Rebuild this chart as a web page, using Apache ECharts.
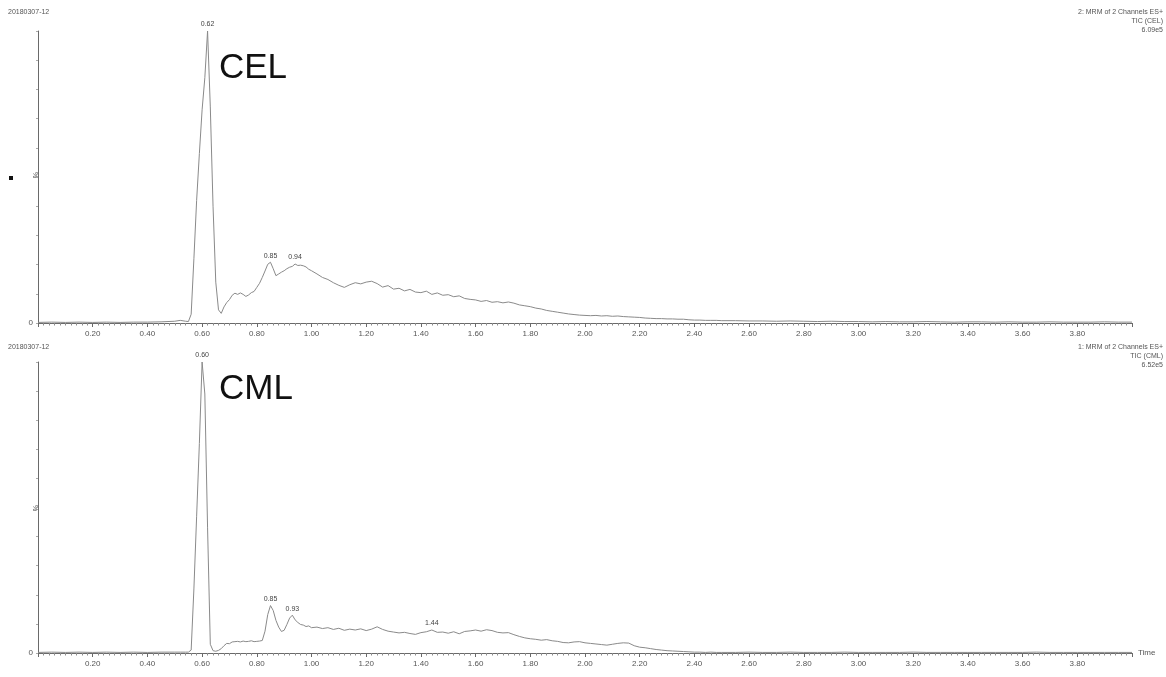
<!DOCTYPE html>
<html>
<head>
<meta charset="utf-8">
<script src="https://cdn.jsdelivr.net/npm/echarts@6/dist/echarts.min.js"></script>
<style>
  html, body { margin: 0; padding: 0; background: #fff; }
  #chart { width: 1166px; height: 677px; }
</style>
</head>
<body>
<div id="chart"></div>
<script>
// Retention time (min), shared by both channels
const times = [
  0.00, 0.05, 0.10, 0.15, 0.20, 0.25, 0.30, 0.35, 0.40, 0.45, 0.50, 0.52, 0.54,
  0.55, 0.56, 0.57, 0.58, 0.59, 0.60, 0.61, 0.62, 0.63, 0.64,
  0.65, 0.66, 0.67, 0.68, 0.69, 0.70, 0.71, 0.72, 0.73, 0.74,
  0.75, 0.76, 0.77, 0.78, 0.79, 0.80, 0.81, 0.82, 0.83, 0.84,
  0.85, 0.86, 0.87, 0.88, 0.89, 0.90, 0.91, 0.92, 0.93, 0.94,
  0.95, 0.96, 0.97, 0.98, 0.99, 1.00,
  1.02, 1.04, 1.06, 1.08, 1.10, 1.12, 1.14, 1.16, 1.18, 1.20,
  1.22, 1.24, 1.26, 1.28, 1.30, 1.32, 1.34, 1.36, 1.38, 1.40,
  1.42, 1.44, 1.46, 1.48, 1.50, 1.52, 1.54, 1.56, 1.58, 1.60,
  1.62, 1.64, 1.66, 1.68, 1.70, 1.72, 1.74, 1.76, 1.78, 1.80,
  1.82, 1.84, 1.86, 1.88, 1.90, 1.92, 1.94, 1.96, 1.98, 2.00,
  2.02, 2.04, 2.06, 2.08, 2.10, 2.12, 2.14, 2.16, 2.18, 2.20,
  2.22, 2.24, 2.26, 2.28, 2.30, 2.32, 2.34, 2.36, 2.38, 2.40,
  2.42, 2.44, 2.46, 2.48, 2.50,
  2.55, 2.60, 2.65, 2.70, 2.75, 2.80, 2.85, 2.90, 2.95, 3.00,
  3.05, 3.10, 3.15, 3.20, 3.25, 3.30, 3.35, 3.40, 3.45, 3.50,
  3.55, 3.60, 3.65, 3.70, 3.75, 3.80, 3.85, 3.90, 3.95, 4.00
];

// Channel 2: TIC (CEL), relative intensity %
const celPct = [
  0.2, 0.3, 0.2, 0.3, 0.2, 0.3, 0.2, 0.3, 0.3, 0.4, 0.6, 0.9, 0.6,
  0.5, 3.0, 22, 42, 58, 73, 84, 100, 74, 40,
  14, 4.5, 3.3, 5.5, 7.0, 8.0, 9.5, 10.2, 9.8, 10.3,
  9.8, 9.1, 9.6, 10.4, 10.8, 12.2, 13.6, 15.6, 17.8, 20.1,
  20.8, 18.6, 16.2, 16.8, 17.4, 17.9, 18.6, 19.1, 19.4, 20.2,
  19.7, 19.8, 19.6, 19.2, 18.4, 17.9,
  16.8, 15.6, 14.9, 13.8, 12.9, 12.2, 13.1, 13.8, 13.4, 14.0,
  14.3, 13.5, 12.3, 12.8, 11.6, 11.9, 11.0, 11.5, 10.6, 10.4,
  10.9, 9.8, 10.3, 9.5, 9.7, 9.0, 9.3, 8.4, 8.1, 7.9,
  7.4, 7.7, 7.1, 7.3, 6.9, 7.2, 6.8, 6.2, 5.9, 5.6,
  5.1, 4.8, 4.3, 4.0, 3.7, 3.4, 3.1, 2.9, 2.7, 2.6,
  2.5, 2.6, 2.4, 2.5, 2.3, 2.4, 2.2, 2.1, 2.0, 1.9,
  1.7, 1.6, 1.5, 1.5, 1.4, 1.4, 1.3, 1.3, 1.1, 1.0,
  1.0, 0.9, 0.9, 0.9, 0.8,
  0.8, 0.7, 0.7, 0.6, 0.7, 0.6, 0.5, 0.6, 0.5, 0.5,
  0.4, 0.5, 0.4, 0.4, 0.5, 0.4, 0.3, 0.4, 0.4, 0.3,
  0.4, 0.3, 0.3, 0.4, 0.3, 0.3, 0.3, 0.4, 0.3, 0.3
];

// Channel 1: TIC (CML), relative intensity %
const cmlPct = [
  0.2, 0.3, 0.2, 0.3, 0.2, 0.3, 0.2, 0.3, 0.2, 0.3, 0.3, 0.3, 0.3,
  0.3, 1.0, 22, 47, 72, 100, 89, 43, 3.0, 0.8,
  0.6, 0.9, 1.5, 2.5, 3.3, 3.2, 3.8, 3.9, 4.0, 3.8,
  4.1, 3.9, 4.0, 4.2, 3.9, 4.0, 4.1, 4.3, 7.5, 13.2,
  16.3, 14.6, 11.2, 8.9, 7.4, 7.8, 9.8, 12.0, 13.0, 11.4,
  10.5, 9.8, 9.6, 9.1, 9.3, 8.7,
  8.9, 8.4, 8.7, 8.1, 8.5, 7.8, 8.2, 7.9, 8.3, 7.7,
  8.2, 9.0, 8.1, 7.5, 7.2, 6.9, 7.1, 6.7, 6.4, 7.0,
  7.3, 7.9, 7.1, 7.2, 6.8, 7.3, 6.6, 7.4, 7.6, 7.9,
  7.5, 8.0, 7.7, 7.1, 6.9, 7.0, 6.3, 5.7, 5.2, 4.9,
  4.7, 4.4, 4.6, 4.2, 4.0, 3.6, 3.5, 3.8, 3.9, 3.5,
  3.3, 3.1, 2.9, 2.7, 3.0, 3.3, 3.5, 3.4, 2.5, 2.0,
  1.8, 1.5, 1.2, 1.0, 0.8, 0.7, 0.6, 0.5, 0.4, 0.3,
  0.3, 0.2, 0.3, 0.2, 0.2,
  0.2, 0.3, 0.2, 0.2, 0.3, 0.2, 0.2, 0.2, 0.3, 0.2,
  0.2, 0.2, 0.2, 0.3, 0.2, 0.2, 0.2, 0.2, 0.2, 0.2,
  0.2, 0.2, 0.3, 0.2, 0.2, 0.2, 0.2, 0.2, 0.2, 0.2
];

// Labelled peak retention times
const celPeaks = [0.62, 0.85, 0.94];
const cmlPeaks = [0.60, 0.85, 0.93, 1.44];

// Header texts
const runName = '20180307-12';
const celHeader = ['2: MRM of 2 Channels ES+', 'TIC (CEL)', '6.09e5'];
const cmlHeader = ['1: MRM of 2 Channels ES+', 'TIC (CML)', '6.52e5'];

const FONT = '"Liberation Sans", Arial, sans-serif';
const LINE = '#8a8a8a';
const AXIS = '#6a6a6a';
const TXT = '#555';

function pairs(vals) {
  return times.map((t, i) => [t, vals[i]]);
}
function peakMarks(peaks, vals) {
  return peaks.map(p => {
    const i = times.findIndex(t => Math.abs(t - p) < 1e-6);
    return { coord: [times[i], vals[i]], value: times[i].toFixed(2) };
  });
}

function xAxis(gridIndex, withName) {
  return {
    type: 'value', gridIndex, min: 0, max: 4, interval: 0.2,
    name: withName ? 'Time' : '',
    nameLocation: 'end', nameGap: 6,
    nameTextStyle: { fontSize: 8, color: TXT, fontFamily: FONT, verticalAlign: 'middle' },
    axisLine: { show: true, lineStyle: { color: AXIS, width: 1 } },
    axisTick: { show: true, length: 4, lineStyle: { color: AXIS } },
    minorTick: { show: true, splitNumber: 10, length: 2.5, lineStyle: { color: '#8c8c8c' } },
    axisLabel: {
      fontSize: 8, color: TXT, fontFamily: FONT, margin: 7,
      formatter: v => (v > 0.001 && v < 3.99) ? v.toFixed(2) : ''
    },
    splitLine: { show: false },
    minorSplitLine: { show: false }
  };
}
function yAxis(gridIndex) {
  return {
    type: 'value', gridIndex, min: 0, max: 100, interval: 10,
    axisLine: { show: true, lineStyle: { color: AXIS, width: 1 } },
    axisTick: { show: true, length: 2, lineStyle: { color: '#aaa' } },
    axisLabel: {
      fontSize: 8, color: TXT, fontFamily: FONT, margin: 5,
      formatter: v => v === 0 ? '0' : ''
    },
    splitLine: { show: false }
  };
}
function trace(name, vals, peaks, idx) {
  return {
    name, type: 'line', xAxisIndex: idx, yAxisIndex: idx,
    data: pairs(vals), showSymbol: false, smooth: false,
    lineStyle: { color: LINE, width: 1 },
    markPoint: {
      symbol: 'circle', symbolSize: 0, animation: false,
      label: { show: true, position: 'top', distance: 3, fontSize: 7, color: '#444', fontFamily: FONT,
               formatter: p => p.value },
      data: peakMarks(peaks, vals)
    }
  };
}

function smallText(x, y, text, align) {
  return {
    type: 'text', x, y,
    style: { text, font: '7px ' + FONT, fill: TXT, textAlign: align || 'left', align: align || 'left',
             textVerticalAlign: 'middle', verticalAlign: 'middle' }
  };
}
function headerLines(y0, lines) {
  return lines.map((s, k) => smallText(1163, y0 + k * 9, s, 'right'));
}
function bigText(x, y, text) {
  return {
    type: 'text', x, y,
    style: { text, font: '35px ' + FONT, fill: '#111', textVerticalAlign: 'top', verticalAlign: 'top' }
  };
}
function percentMark(y) {
  return {
    type: 'text', x: 35, y, rotation: -Math.PI / 2,
    style: { text: '%', font: '7px ' + FONT, fill: TXT, textAlign: 'center', align: 'center',
             textVerticalAlign: 'middle', verticalAlign: 'middle' }
  };
}

const chart = echarts.init(document.getElementById('chart'), null, { renderer: 'canvas' });
chart.setOption({
  animation: false,
  backgroundColor: '#fff',
  grid: [
    { left: 38, right: 34, top: 31, height: 292 },
    { left: 38, right: 34, top: 362, height: 291 }
  ],
  xAxis: [xAxis(0, false), xAxis(1, true)],
  yAxis: [yAxis(0), yAxis(1)],
  series: [
    trace('CEL', celPct, celPeaks, 0),
    trace('CML', cmlPct, cmlPeaks, 1)
  ],
  graphic: [
    smallText(8, 12, runName),
    smallText(8, 347, runName),
    ...headerLines(12, celHeader),
    ...headerLines(347, cmlHeader),
    bigText(219, 51, 'CEL'),
    bigText(219, 372, 'CML'),
    percentMark(175),
    percentMark(508),
    { type: 'rect', shape: { x: 9, y: 176, width: 4, height: 4 }, style: { fill: '#111' } }
  ]
});
</script>
</body>
</html>
